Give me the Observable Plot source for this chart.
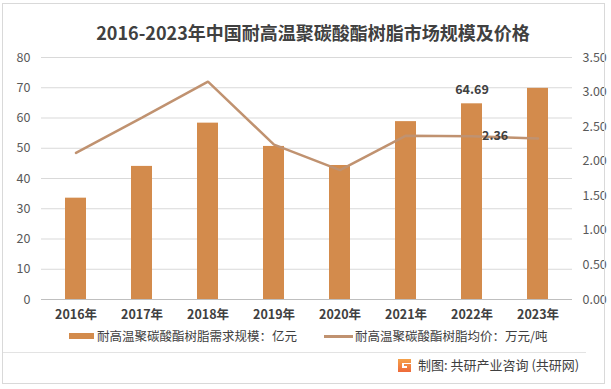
<!DOCTYPE html>
<html>
<head>
<meta charset="utf-8">
<script src="https://cdn.jsdelivr.net/npm/d3@7"></script>
<script src="https://cdn.jsdelivr.net/npm/@observablehq/plot@0.6"></script>
<style>
  html, body { margin: 0; padding: 0; background: #fff; }
  body { width: 611px; height: 389px; position: relative; overflow: hidden; font-family: "Noto Sans CJK SC", "Noto Sans", sans-serif; }
  #frame { position: absolute; left: 2px; top: 3px; width: 603px; height: 381px; border: 1px solid #D9D9D9; box-sizing: border-box; pointer-events: none; }
  #title { position: absolute; left: 0; width: 626px; top: 18px; text-align: center; font-size: 18px; font-weight: bold; color: #404040; line-height: 28px; }
  #chart { position: absolute; left: 0; top: 0; }
  .leg { position: absolute; top: 327px; font-size: 12.5px; color: #404040; line-height: 18px; white-space: nowrap; }
  .sw { position: absolute; }
  #divider { position: absolute; left: 3px; top: 352px; width: 583px; height: 1px; background: #E3E3E3; }
  #caption { position: absolute; left: 418px; top: 356px; font-size: 13px; color: #404040; line-height: 18px; white-space: nowrap; }
  #logo { position: absolute; left: 396px; top: 357px; }
</style>
</head>
<body>
<div id="chart"></div>
<div id="frame"></div>
<div id="title">2016-2023年中国耐高温聚碳酸酯树脂市场规模及价格</div>
<div class="sw" style="left:69px; top:333px; width:25px; height:6px; background:#D38B4C;"></div>
<div class="leg" style="left:97px;">耐高温聚碳酸酯树脂需求规模：亿元</div>
<div class="sw" style="left:324px; top:335px; width:29px; height:3px; background:#C09270;"></div>
<div class="leg" style="left:355px;">耐高温聚碳酸酯树脂均价：万元/吨</div>
<div id="divider"></div>
<svg id="logo" width="17" height="17" viewBox="0 0 17 17">
  <defs><linearGradient id="lg" x1="0" y1="0" x2="0" y2="1"><stop offset="0" stop-color="#F5A24A"/><stop offset="1" stop-color="#EE6A3A"/></linearGradient></defs>
  <path d="M2 2 H15 V6 H6 V11 H11 V9 H8 V7 H15 V15 H2 Z" fill="url(#lg)"/>
</svg>
<div id="caption">制图: 共研产业咨询 (共研网)</div>
<script>
const years = ["2016年", "2017年", "2018年", "2019年", "2020年", "2021年", "2022年", "2023年"];
const demandSize = [33.5, 44.0, 58.3, 50.6, 44.3, 58.8, 64.69, 69.8];
const avgPrice = [2.12, 2.63, 3.15, 2.24, 1.87, 2.37, 2.36, 2.33];
const leftTicks = [0, 10, 20, 30, 40, 50, 60, 70, 80];
const rightTicks = [0, 0.5, 1.0, 1.5, 2.0, 2.5, 3.0, 3.5];
const labelSize = {year: "2022年", text: "64.69"};
const labelPrice = {year: "2022年", text: "2.36"};

const k = 80 / 3.5;
const data = years.map((y, i) => ({year: y, size: demandSize[i], price: avgPrice[i]}));
const font = '"Noto Sans CJK SC", "Noto Sans", sans-serif';

const chart = Plot.plot({
  width: 611,
  height: 389,
  marginLeft: 41,
  marginRight: 39,
  marginTop: 57,
  marginBottom: 90,
  style: {fontFamily: font, fontSize: "12px", color: "#595959", background: "transparent"},
  x: {type: "band", domain: years, paddingInner: 0.68, paddingOuter: 0.34, label: null},
  y: {domain: [0, 80], label: null},
  marks: [
    Plot.gridY(leftTicks, {stroke: "#D9D9D9", strokeOpacity: 1}),
    Plot.ruleY([0], {stroke: "#BFBFBF"}),
    Plot.barY(data, {x: "year", y: "size", fill: "#D38B4C"}),
    Plot.line(data, {x: "year", y: d => d.price * k, stroke: "#C09270", strokeWidth: 2.5, strokeLinejoin: "miter"}),
    Plot.text([labelSize], {x: "year", y: d => demandSize[years.indexOf(d.year)], text: "text", dy: -14, fill: "#404040", fontSize: 12.5, fontWeight: "bold"}),
    Plot.text([labelPrice], {x: "year", y: d => avgPrice[years.indexOf(d.year)] * k, text: "text", dx: 10, textAnchor: "start", fill: "#404040", fontSize: 12.5, fontWeight: "bold"}),
    Plot.axisY({anchor: "left", ticks: leftTicks, tickSize: 0, tickPadding: 11, tickFormat: d => String(d), label: null, fill: "#595959", fontSize: 12.5}),
    Plot.axisY({anchor: "right", ticks: rightTicks.map(v => v * k), tickSize: 0, tickPadding: 10, tickFormat: v => (v / k).toFixed(2), label: null, fill: "#595959", fontSize: 12.5}),
    Plot.axisX({tickSize: 0, tickPadding: 11, label: null, fill: "#404040", fontSize: 12.5, fontWeight: "bold"})
  ]
});
document.getElementById("chart").appendChild(chart);
</script>
</body>
</html>
